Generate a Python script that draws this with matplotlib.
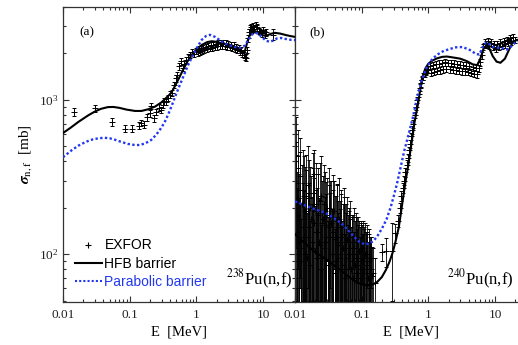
import matplotlib
matplotlib.use("Agg")
import matplotlib.pyplot as plt
from matplotlib.ticker import LogLocator, NullFormatter, FixedLocator, FixedFormatter
from matplotlib.lines import Line2D

plt.rcParams['font.family'] = ['Liberation Serif', 'DejaVu Serif']
plt.rcParams['mathtext.fontset'] = 'stix'

BLUE = '#2138f0'

# ---------------- 238Pu(n,f) ----------------
hfb_a_E = [0.01, 0.013, 0.017, 0.024, 0.030, 0.037, 0.047, 0.057, 0.07, 0.09, 0.12, 0.15,
           0.19, 0.24, 0.30, 0.36, 0.42, 0.50, 0.60, 0.72, 0.85, 1.0, 1.2, 1.45, 1.7, 2.0,
           2.5, 3.0, 3.6, 4.2, 4.8, 5.3, 5.8, 6.4, 7.2, 8.0, 9.0, 10.0, 11.5, 13.0, 15.0,
           18.0, 22.0, 26.0, 30.0]
hfb_a_sig = [610, 660, 720, 795, 840, 875, 898, 900, 888, 865, 848, 848,
             870, 905, 965, 1040, 1110, 1280, 1500, 1750, 1960, 2120, 2270, 2370, 2400, 2380,
             2320, 2260, 2190, 2110, 2010, 2060, 2380, 2680, 2790, 2770, 2680, 2620, 2620, 2680, 2720,
             2690, 2630, 2590, 2560]

par_a_E = [0.01, 0.0136, 0.017, 0.022, 0.028, 0.035, 0.042, 0.05, 0.06, 0.076, 0.095, 0.119,
           0.14, 0.17, 0.21, 0.25, 0.29, 0.33, 0.38, 0.44, 0.50, 0.56, 0.65, 0.75, 0.87,
           1.0, 1.2, 1.4, 1.6, 1.9, 2.3, 2.8, 3.4, 4.0, 4.6, 5.3, 6.0, 6.8, 7.6, 8.5, 9.5,
           11.0, 12.5, 14.0, 16.0, 18.5, 22.0, 26.0, 30.0]
par_a_sig = [425, 473, 505, 535, 555, 565, 568, 564, 552, 533, 518, 510,
             510, 522, 550, 595, 650, 710, 810, 950, 1100, 1240, 1450, 1680, 1920,
             2150, 2450, 2600, 2640, 2560, 2420, 2300, 2230, 2190, 2180, 2250, 2450, 2650, 2730, 2680, 2560,
             2420, 2380, 2420, 2500, 2520, 2480, 2450, 2440]

exf_a_E = [0.0146, 0.030, 0.054, 0.084, 0.11, 0.14, 0.15, 0.165, 0.18, 0.20, 0.21, 0.23,
           0.25, 0.27, 0.29, 0.31, 0.33, 0.35, 0.37, 0.40, 0.43, 0.46, 0.49, 0.52, 0.55,
           0.58, 0.62, 0.66, 0.70, 0.75, 0.80, 0.86, 0.92, 1.0,
           1.04, 1.08, 1.12, 1.17, 1.22, 1.27, 1.32, 1.38, 1.44, 1.5, 1.57, 1.64, 1.71,
           1.79, 1.87, 1.95, 2.04, 2.13, 2.22, 2.32, 2.42, 2.53, 2.64, 2.76, 2.88, 3.0,
           3.15, 3.3, 3.45, 3.6, 3.75, 3.9, 4.1, 4.3, 4.5, 4.7, 4.9, 5.1, 5.3, 5.5, 5.7,
           5.9, 6.1, 6.3, 6.5, 6.8, 7.1, 7.4, 7.8, 8.2, 8.6, 9.0, 9.5, 10.0, 10.5, 11.2, 14.0]
exf_a_sig = [840, 880, 720, 650, 650, 680, 710, 690, 775, 820, 915, 760,
             835, 890, 860, 930, 980, 970, 1030, 1080, 1110, 1250, 1380, 1450, 1650,
             1780, 1620, 1700, 1820, 1900, 1960, 2050, 1980, 2080,
             2030, 2120, 2060, 2150, 2090, 2180, 2110, 2200, 2140, 2230, 2160, 2250, 2180,
             2280, 2200, 2300, 2220, 2330, 2240, 2350, 2250, 2340, 2230, 2320, 2220, 2300,
             2200, 2280, 2170, 2250, 2140, 2200, 2100, 2160, 2060, 2110, 2000, 1960, 1900, 1880, 2100,
             2500, 2750, 2900, 2950, 2850, 3000, 2900, 3050, 2950, 2800, 2750, 2700, 2850, 2650, 2750, 2650]
exf_a_err = [50, 45, 40, 35, 35, 35, 35, 35, 40, 40, 45, 40,
             40, 45, 40, 45, 50, 50, 50, 55, 55, 60, 65, 70, 80,
             85, 80, 85, 90, 90, 90, 95, 90, 95,
             95, 100, 95, 100, 95, 100, 100, 105, 100, 105, 100, 105, 100,
             105, 100, 110, 100, 110, 105, 110, 105, 110, 105, 110, 105, 110,
             100, 105, 100, 105, 100, 100, 95, 100, 95, 100, 95, 90, 90, 90, 100,
             120, 130, 140, 140, 140, 150, 140, 150, 140, 140, 130, 130, 140, 130, 140, 220]

# ---------------- 240Pu(n,f) ----------------
hfb_b_E = [0.01, 0.012, 0.015, 0.019, 0.024, 0.030, 0.038, 0.048, 0.06, 0.075, 0.09, 0.11,
           0.13, 0.15, 0.17, 0.20, 0.23, 0.26, 0.29, 0.32, 0.36, 0.40, 0.45, 0.50, 0.56,
           0.62, 0.70, 0.80, 0.90, 1.0, 1.15, 1.35, 1.6, 1.9, 2.4, 3.0, 3.8, 4.6, 5.4,
           6.0, 6.7, 7.4, 8.2, 9.2, 10.5, 12.0, 14.0, 16.0, 18.0, 21.0, 25.0, 30.0]
hfb_b_sig = [135, 125, 115, 105, 98, 92, 85, 79, 73, 68, 65, 63,
             63, 64, 66, 71, 79, 89, 102, 120, 150, 205, 290, 380, 530,
             720, 950, 1380, 1600, 1720, 1800, 1860, 1900, 1910, 1880, 1850, 1780, 1700, 1680,
             1850, 2150, 2250, 2150, 1920, 1770, 1740, 1850, 2100, 2330, 2450, 2450, 2420]

par_b_E = [0.01, 0.012, 0.015, 0.019, 0.024, 0.030, 0.038, 0.048, 0.06, 0.075, 0.09, 0.11,
           0.13, 0.15, 0.17, 0.20, 0.235, 0.27, 0.30, 0.34, 0.38, 0.43, 0.50, 0.58, 0.68,
           0.80, 0.95, 1.15, 1.4, 1.7, 2.05, 2.5, 3.2, 4.0, 4.6, 5.2, 5.8, 6.5, 7.3, 8.2,
           9.5, 11.5, 13.5, 15.0, 17.0, 20.0, 24.0, 30.0]
par_b_sig = [220, 213, 205, 197, 190, 183, 172, 160, 146, 131, 121, 116,
             117, 122, 130, 146, 168, 200, 235, 290, 360, 460, 590, 760, 1050,
             1350, 1650, 1850, 1980, 2080, 2130, 2190, 2200, 2130, 2050, 1980, 1970, 2200, 2350, 2300,
             2200, 2170, 2150, 2120, 2200, 2350, 2400, 2400]

exf_b_E = [0.0102, 0.0106, 0.0110, 0.0114, 0.0118, 0.0122, 0.0127, 0.0132, 0.0137, 0.0142,
           0.0148, 0.0154, 0.0160, 0.0166, 0.0173, 0.0180, 0.0187, 0.0195, 0.0203, 0.0211,
           0.0220, 0.0229, 0.0238, 0.0248, 0.0258, 0.0268, 0.0279, 0.0290, 0.0302, 0.0314,
           0.0327, 0.0340, 0.0354, 0.0368, 0.0383, 0.0398, 0.0414, 0.0431, 0.0448, 0.0466,
           0.0485, 0.0504, 0.0524, 0.0545, 0.0567, 0.0590, 0.0614, 0.0638, 0.0664, 0.0690,
           0.0718, 0.0747, 0.0777, 0.0808, 0.0840, 0.0874, 0.0909, 0.0945, 0.0983, 0.102,
           0.106, 0.110, 0.115, 0.120, 0.125, 0.130, 0.135, 0.140, 0.150, 0.160,
           0.20, 0.235, 0.28, 0.31,
           0.35, 0.37, 0.39, 0.41, 0.43, 0.45, 0.47, 0.49, 0.51, 0.53, 0.55, 0.57, 0.59,
           0.62, 0.65, 0.68, 0.71, 0.74, 0.77, 0.80, 0.84, 0.88, 0.92, 0.96, 1.0,
           1.05, 1.1, 1.16, 1.22, 1.28, 1.35, 1.42, 1.5, 1.58, 1.67, 1.76, 1.86, 1.96,
           2.07, 2.18, 2.3, 2.43, 2.56, 2.7, 2.85, 3.0, 3.17, 3.34, 3.52, 3.71, 3.91,
           4.12, 4.34, 4.58, 4.83, 5.09, 5.37, 5.66, 5.97, 6.3, 6.64, 7.0, 7.4, 7.8,
           8.2, 8.7, 9.2, 9.7, 10.2, 10.8, 11.4, 12.0, 12.7, 13.4, 14.1, 14.9, 15.7,
           16.6, 17.5, 18.5, 19.5]
exf_b_sig = [440, 180, 360, 120, 260, 90, 210, 150, 240, 100,
             190, 130, 230, 85, 170, 110, 200, 330, 140, 95,
             180, 120, 220, 80, 160, 110, 190, 130, 200, 90,
             150, 180, 100, 140, 190, 75, 130, 165, 95, 120,
             150, 80, 110, 135, 70, 120, 95, 140, 110, 80,
             100, 130, 75, 95, 120, 85, 105, 70, 90, 110,
             75, 95, 80, 100, 70, 90, 80, 95, 75, 65,
             103, 105, 105, 138,
             165, 200, 240, 270, 300, 340, 380, 420, 470, 520, 580, 640, 700,
             800, 900, 1000, 1100, 1200, 1280, 1350, 1420, 1480, 1520, 1560, 1580,
             1650, 1500, 1680, 1520, 1700, 1540, 1720, 1560, 1740, 1580, 1750, 1590, 1740,
             1580, 1730, 1570, 1720, 1560, 1700, 1550, 1690, 1540, 1680, 1530, 1670, 1520,
             1650, 1500, 1630, 1480, 1620, 1470, 1600, 1750, 1950, 2200, 2350, 2300, 2400,
             2250, 2350, 2200, 2300, 2150, 2300, 2200, 2350, 2250, 2400, 2300, 2450, 2350,
             2500, 2400, 2550, 2450]
exf_b_err = [330, 160, 280, 110, 200, 80, 170, 140, 190, 95,
             160, 120, 180, 80, 150, 100, 160, 140, 120, 90,
             150, 110, 170, 75, 140, 100, 150, 115, 110, 85,
             130, 120, 95, 120, 110, 70, 110, 120, 90, 100,
             110, 75, 100, 100, 65, 90, 85, 60, 60, 70,
             80, 50, 65, 80, 55, 70, 60, 60, 70, 45,
             60, 50, 55, 40, 50, 45, 40, 35, 35, 30,
             13, 23, 55, 20,
             15, 15, 18, 20, 20, 22, 25, 25, 28, 30, 32, 35, 38,
             40, 45, 50, 55, 60, 60, 65, 70, 70, 75, 75, 80,
             80, 75, 80, 75, 85, 75, 85, 80, 85, 80, 85, 80, 85,
             80, 85, 80, 85, 80, 85, 80, 85, 80, 85, 80, 85, 80,
             85, 80, 85, 80, 85, 80, 85, 90, 100, 110, 120, 115, 120,
             115, 120, 110, 115, 110, 115, 110, 120, 115, 120, 115, 125, 120,
             125, 120, 130, 125]

# second resonance-region data set for 240Pu
exf_b2_E = [0.0101, 0.0104, 0.0108, 0.0112, 0.0116, 0.0120, 0.0125, 0.0130, 0.0135, 0.0140,
            0.0145, 0.0151, 0.0157, 0.0163, 0.0170, 0.0177, 0.0184, 0.0191, 0.0199, 0.0207,
            0.0216, 0.0225, 0.0234, 0.0243, 0.0253, 0.0263, 0.0274, 0.0285, 0.0296, 0.0308,
            0.0320, 0.0333, 0.0347, 0.0361, 0.0376, 0.0391, 0.0406, 0.0422, 0.0439, 0.0457,
            0.0475, 0.0494, 0.0514, 0.0535, 0.0556, 0.0578, 0.0601, 0.0625, 0.0650, 0.0676,
            0.0703, 0.0732, 0.0762, 0.0792, 0.0824, 0.0857, 0.0891, 0.0927, 0.0964, 0.1003,
            0.104, 0.108, 0.112, 0.117, 0.122, 0.127, 0.132, 0.138, 0.145]
exf_b2_sig = [210, 290, 140, 230, 170, 320, 110, 260, 130, 190,
              240, 95, 280, 150, 200, 120, 250, 160, 105, 210,
              140, 190, 115, 240, 95, 170, 210, 120, 155, 85,
              200, 130, 160, 100, 175, 125, 90, 150, 115, 170,
              100, 130, 85, 150, 110, 95, 125, 80, 100, 120,
              90, 70, 110, 85, 100, 75, 95, 80, 105, 70,
              90, 80, 100, 75, 85, 95, 70, 80, 72]
exf_b2_err = [190, 240, 130, 200, 160, 250, 105, 210, 125, 175,
              200, 90, 220, 140, 170, 115, 200, 150, 100, 180,
              130, 170, 110, 190, 90, 150, 170, 115, 140, 80,
              160, 120, 140, 95, 150, 115, 85, 130, 105, 140,
              95, 115, 80, 120, 100, 90, 110, 75, 90, 100,
              85, 65, 90, 80, 85, 70, 80, 70, 60, 65,
              75, 70, 60, 65, 70, 50, 60, 50, 40]

fig = plt.figure(figsize=(5.18, 3.45), dpi=100)
ax_a = fig.add_axes([63 / 518, 43 / 345, 232 / 518, 295 / 345])
ax_b = fig.add_axes([295 / 518, 43 / 345, 232 / 518, 295 / 345])

eb_style = dict(fmt='+', color='k', ms=4, mew=0.7, elinewidth=0.6, capsize=1.5,
                capthick=0.6, zorder=2)

for ax in (ax_a, ax_b):
    ax.set_xscale('log')
    ax.set_yscale('log', nonpositive='clip')

ax_a.errorbar(exf_a_E, exf_a_sig, yerr=exf_a_err, **eb_style)
ax_a.plot(hfb_a_E, hfb_a_sig, color='k', lw=1.5, zorder=3)
ax_a.plot(par_a_E, par_a_sig, color=BLUE, lw=1.7, ls=(0, (1, 1)), zorder=3)

ax_b.errorbar(exf_b2_E, exf_b2_sig, yerr=exf_b2_err, **eb_style)
ax_b.errorbar(exf_b_E, exf_b_sig, yerr=exf_b_err, **eb_style)
ax_b.plot(hfb_b_E, hfb_b_sig, color='k', lw=1.5, zorder=3)
ax_b.plot(par_b_E, par_b_sig, color=BLUE, lw=1.7, ls=(0, (1, 1)), zorder=3)

xticks = [0.01, 0.1, 1, 10]
xlabels = ['0.01', '0.1', '1', '10']
for ax in (ax_a, ax_b):
    ax.set_xlim(0.01, 30)
    ax.set_ylim(49, 4000)
    ax.xaxis.set_major_locator(FixedLocator(xticks))
    ax.xaxis.set_major_formatter(FixedFormatter(xlabels))
    ax.xaxis.set_minor_locator(LogLocator(base=10, subs=range(2, 10), numticks=20))
    ax.xaxis.set_minor_formatter(NullFormatter())
    ax.yaxis.set_minor_locator(LogLocator(base=10, subs=range(2, 10), numticks=20))
    ax.yaxis.set_minor_formatter(NullFormatter())
    ax.tick_params(which='both', direction='in', top=True, right=True, colors='#333333',
                   labelcolor='#222222', width=0.8, labelsize=9.5)
    ax.tick_params(which='major', length=4, pad=5)
    ax.tick_params(which='minor', length=2)
    for sp in ax.spines.values():
        sp.set_color('#333333')
        sp.set_linewidth(0.9)
    ax.set_xlabel('E  [MeV]', fontsize=10.5, labelpad=3)

ax_b.tick_params(axis='y', which='both', labelleft=False)
ax_a.tick_params(axis='y', which='major', pad=3)

ax_a.set_ylabel(r'$\boldsymbol{\sigma}_{\rm n,f}$  [mb]', fontsize=11, labelpad=4)

ax_a.text(0.07, 0.915, '(a)', transform=ax_a.transAxes, fontsize=9.5, va='center', ha='left')
ax_b.text(0.064, 0.915, '(b)', transform=ax_b.transAxes, fontsize=9.5, va='center', ha='left')
ax_a.text(0.99, 0.075, r'$^{238}$Pu(n,f)', transform=ax_a.transAxes, fontsize=12,
          va='center', ha='right')
ax_b.text(0.944, 0.075, r'$^{240}$Pu(n,f)', transform=ax_b.transAxes, fontsize=12,
          va='center', ha='right')

handles = [
    Line2D([], [], ls='none', marker='+', color='k', ms=4, mew=0.8),
    Line2D([], [], color='k', lw=1.5),
    Line2D([], [], color=BLUE, lw=1.5, ls=(0, (1, 1))),
]
leg = ax_a.legend(handles, ['EXFOR', 'HFB barrier', 'Parabolic barrier'],
                  loc='lower left', bbox_to_anchor=(0.05, 0.045), frameon=False,
                  borderpad=0, borderaxespad=0, handlelength=2.0, handletextpad=0.15,
                  labelspacing=0.3, prop={'family': 'Liberation Sans', 'size': 10})
for txt, c in zip(leg.get_texts(), ['k', 'k', BLUE]):
    txt.set_color(c)

fig.savefig('out.png', dpi=100, facecolor='white')
